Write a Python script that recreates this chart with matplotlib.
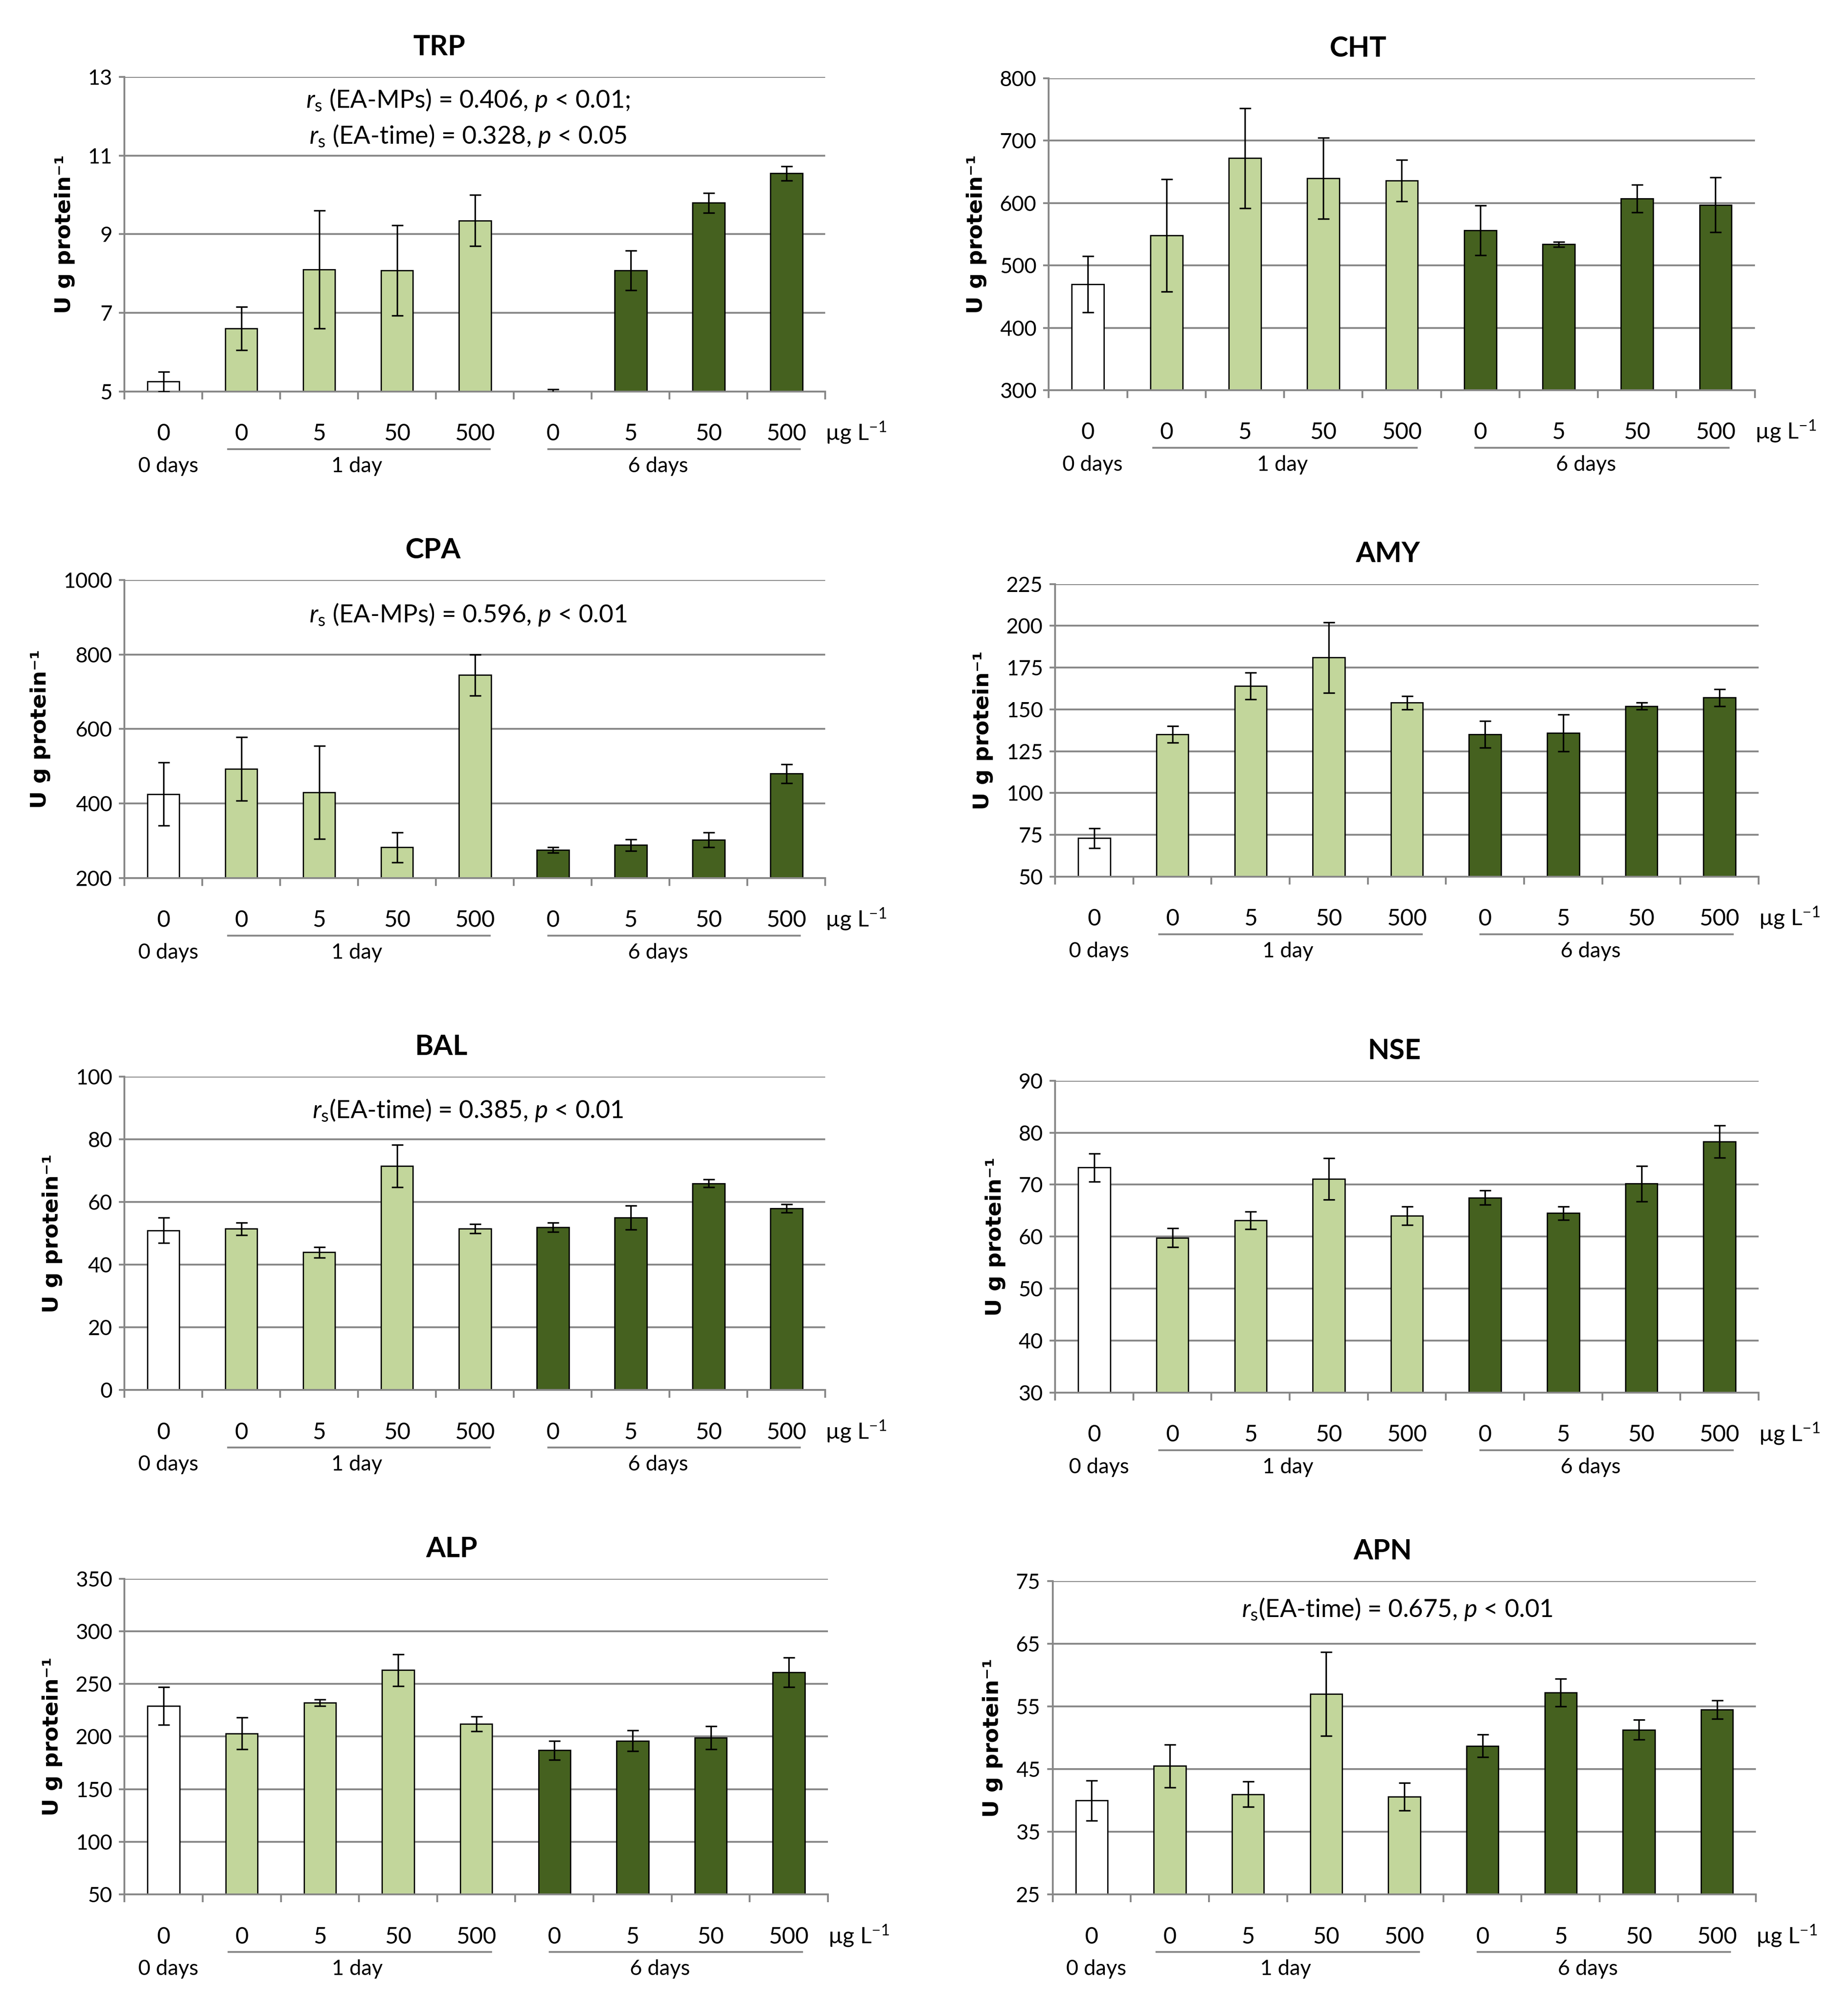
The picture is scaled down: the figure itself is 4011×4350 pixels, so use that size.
import matplotlib
matplotlib.use('Agg')
import matplotlib.pyplot as plt
import matplotlib.transforms as mtrans

## data
doses = ['0', '0', '5', '50', '500', '0', '5', '50', '500']

trp_mean = [5.25, 6.6, 8.1, 8.08, 9.35, 5.0, 8.08, 9.8, 10.55]
trp_err = [0.25, 0.55, 1.5, 1.15, 0.65, 0.05, 0.5, 0.25, 0.18]

cht_mean = [470, 548, 672, 640, 636, 556, 534, 607, 597]
cht_err = [45, 90, 80, 65, 33, 40, 4, 22, 44]

cpa_mean = [425, 493, 430, 282, 745, 275, 288, 302, 480]
cpa_err = [85, 85, 125, 40, 55, 8, 15, 20, 25]

amy_mean = [73, 135, 164, 181, 154, 135, 136, 152, 157]
amy_err = [6, 5, 8, 21, 4, 8, 11, 2, 5]

bal_mean = [51, 51.5, 44, 71.5, 51.5, 52, 55, 66, 58]
bal_err = [4, 2, 1.7, 6.8, 1.5, 1.5, 3.8, 1.2, 1.3]

nse_mean = [73.3, 59.8, 63.1, 71.1, 64.0, 67.5, 64.5, 70.2, 78.3]
nse_err = [2.7, 1.8, 1.7, 4.0, 1.8, 1.4, 1.3, 3.4, 3.1]

alp_mean = [229, 203, 232, 263, 212, 187, 196, 199, 261]
alp_err = [18, 15, 3, 15, 7, 9, 10, 11, 14]

apn_mean = [40.0, 45.5, 41.0, 57.0, 40.6, 48.7, 57.2, 51.3, 54.5]
apn_err = [3.2, 3.4, 2.0, 6.7, 2.2, 1.8, 2.2, 1.6, 1.5]

names = ['TRP', 'CHT', 'CPA', 'AMY', 'BAL', 'NSE', 'ALP', 'APN']
means = [trp_mean, cht_mean, cpa_mean, amy_mean, bal_mean, nse_mean, alp_mean, apn_mean]
errs = [trp_err, cht_err, cpa_err, amy_err, bal_err, nse_err, alp_err, apn_err]
yranges = [(5, 13, 2), (300, 800, 100), (200, 1000, 200), (50, 225, 25),
           (0, 100, 20), (30, 90, 10), (50, 350, 50), (25, 75, 10)]

notes = {
    'TRP': [r'$\mathit{r}_{\mathrm{s}}$ (EA-MPs) = 0.406, $\mathit{p}$ < 0.01;',
            r'$\mathit{r}_{\mathrm{s}}$ (EA-time) = 0.328, $\mathit{p}$ < 0.05'],
    'CPA': [r'$\mathit{r}_{\mathrm{s}}$ (EA-MPs) = 0.596, $\mathit{p}$ < 0.01'],
    'BAL': [r'$\mathit{r}_{\mathrm{s}}$(EA-time) = 0.385, $\mathit{p}$ < 0.01'],
    'APN': [r'$\mathit{r}_{\mathrm{s}}$(EA-time) = 0.675, $\mathit{p}$ < 0.01'],
}
note_y = {'TRP': [0.927, 0.812], 'CPA': [0.884], 'BAL': [0.893], 'APN': [0.91]}

## layout: axes boxes in reference pixels (1440 x 1561 view)
boxes = [(97, 60, 643, 305), (817, 61, 1367, 304),
         (97, 452, 643, 684), (822, 455, 1370, 683),
         (97, 839, 643, 1083), (822, 842, 1370, 1085),
         (97, 1230, 645, 1476), (820, 1232, 1368, 1476)]
title_x = [0.449, 0.438, 0.44, 0.473, 0.452, 0.482, 0.465, 0.469]
RW, RH = 1440.0, 1561.4

white = '#FFFFFF'
light = '#C2D69B'
dark = '#45611F'
grid = '#878787'
colors = [white] + [light] * 4 + [dark] * 4

plt.rcParams['font.family'] = ['Lato', 'DejaVu Sans']
plt.rcParams['mathtext.fontset'] = 'custom'
plt.rcParams['mathtext.rm'] = 'Lato'
plt.rcParams['mathtext.it'] = 'Lato:italic'
plt.rcParams['mathtext.bf'] = 'Lato:bold'

fig = plt.figure(figsize=(40.12, 43.5), dpi=100)
fig.patch.set_facecolor('white')

x = list(range(len(doses)))

for i, name in enumerate(names):
    x0, yt, x1, yb = boxes[i]
    ax = fig.add_axes([x0 / RW, 1 - yb / RH, (x1 - x0) / RW, (yb - yt) / RH])
    lo, hi, step = yranges[i]

    ax.bar(x, [m - lo for m in means[i]], bottom=lo, width=0.41, color=colors,
           edgecolor='black', linewidth=2, zorder=2)
    ax.errorbar(x, means[i], yerr=errs[i], fmt='none', ecolor='black',
                elinewidth=2.4, capsize=9, capthick=2.4, zorder=3)

    ax.set_xlim(-0.5, 8.5)
    ax.set_ylim(lo, hi)
    ticks = list(range(lo, hi + 1, step))
    ax.set_yticks(ticks)
    ax.yaxis.grid(True, color=grid, linewidth=2.8)
    ax.set_axisbelow(True)

    for s in ['top', 'right']:
        ax.spines[s].set_visible(False)
    for s in ['left', 'bottom']:
        ax.spines[s].set_color(grid)
        ax.spines[s].set_linewidth(2.8)

    ax.tick_params(axis='y', direction='out', length=9, width=2.8, color=grid,
                   labelsize=33, pad=10)
    ax.set_xticks(x)
    ax.set_xticklabels(doses)
    ax.set_xticks([k - 0.5 for k in range(len(doses) + 1)], minor=True)
    ax.tick_params(axis='x', which='major', length=0, labelsize=36, pad=50)
    ax.tick_params(axis='x', which='minor', direction='out', length=12,
                   width=2.8, color=grid)

    ax.set_ylabel('U g protein⁻¹', family=['DejaVu Sans'], fontweight='bold',
                  fontsize=34, labelpad=20)
    ax.set_title(name, x=title_x[i], fontsize=44, fontweight='bold', pad=34)

    ## group lines and labels under the dose labels
    tr_line = ax.get_xaxis_transform() + mtrans.ScaledTranslation(0, -1.25, fig.dpi_scale_trans)
    tr_grp = ax.get_xaxis_transform() + mtrans.ScaledTranslation(0, -1.62, fig.dpi_scale_trans)
    tr_unit = ax.transAxes + mtrans.ScaledTranslation(0, -0.89, fig.dpi_scale_trans)
    ax.plot([0.83, 4.19], [0, 0], color=grid, linewidth=2.8, transform=tr_line, clip_on=False)
    ax.plot([4.94, 8.17], [0, 0], color=grid, linewidth=2.8, transform=tr_line, clip_on=False)
    ax.text(0.06, 0, '0 days', transform=tr_grp, ha='center', va='center', fontsize=33)
    ax.text(2.48, 0, '1 day', transform=tr_grp, ha='center', va='center', fontsize=33)
    ax.text(6.35, 0, '6 days', transform=tr_grp, ha='center', va='center', fontsize=33)
    ax.text(1.0, 0, r'µg L$^{-1}$', transform=tr_unit, ha='left', va='center', fontsize=35)

    if name in notes:
        for txt, yy in zip(notes[name], note_y[name]):
            ax.text(0.49, yy, txt, transform=ax.transAxes, ha='center', va='center',
                    fontsize=39)

fig.savefig('out.png', dpi=100, facecolor='white')
